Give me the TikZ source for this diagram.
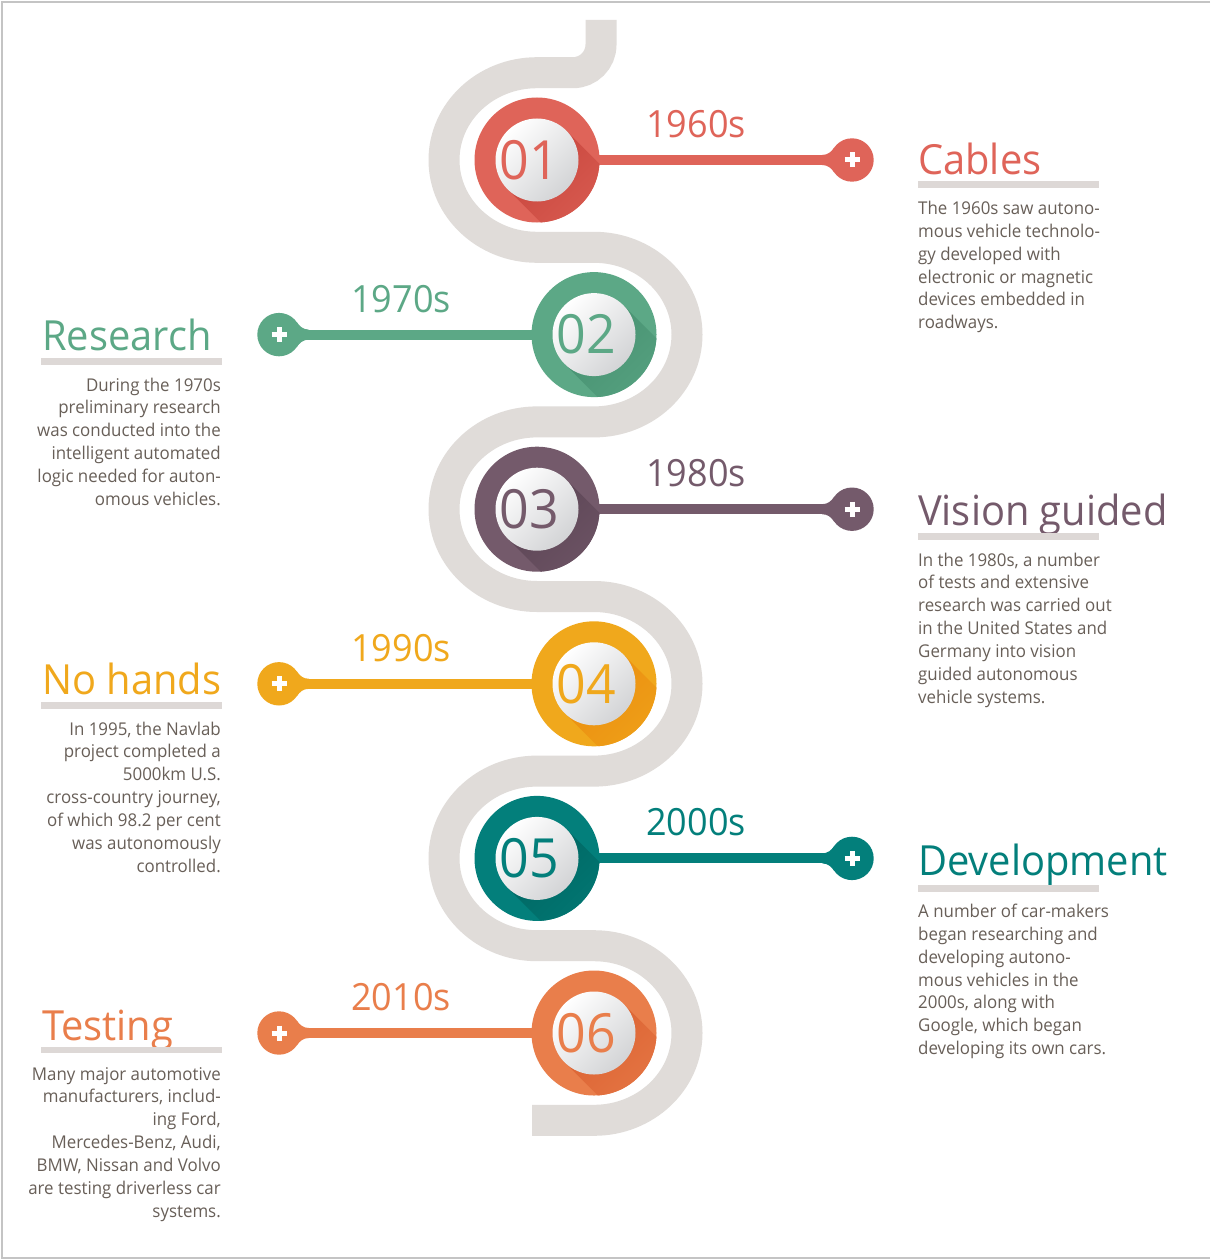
\documentclass[tikz,border=0pt]{standalone}
\usepackage{fontspec}
\setmainfont{Open Sans}[FakeStretch=0.96]
\usetikzlibrary{calc}

% palette
\definecolor{bandgray}{HTML}{E0DCD9}
\definecolor{bargray}{HTML}{DDD8D6}
\definecolor{bodygray}{HTML}{685F58}
\definecolor{framegray}{HTML}{C4C4C4}
\definecolor{discgray}{HTML}{D3D4D6}
\definecolor{cA}{HTML}{DF6459}\definecolor{cAd}{HTML}{C8463D}
\definecolor{cB}{HTML}{5CA886}\definecolor{cBd}{HTML}{479171}
\definecolor{cC}{HTML}{745A6B}\definecolor{cCd}{HTML}{5C4555}
\definecolor{cD}{HTML}{F0A81C}\definecolor{cDd}{HTML}{EB8E10}
\definecolor{cE}{HTML}{037F7B}\definecolor{cEd}{HTML}{006662}
\definecolor{cF}{HTML}{E97E4B}\definecolor{cFd}{HTML}{DB6232}

\tikzset{
  band/.style={draw=bandgray, line width=31pt},
  leader/.style={line width=10pt},
  enddot/.style={circle, minimum size=43.4pt, inner sep=0pt},
  ring/.style={circle, minimum size=125pt, inner sep=0pt},
  disc/.style={circle, minimum size=83pt, inner sep=0pt, top color=white, bottom color=discgray, shading angle=45},
  numtxt/.style={font=\fontsize{54}{54}\selectfont, inner sep=0pt},
  yeartxt/.style={font=\fontsize{37.5}{38}\selectfont, inner sep=0pt, anchor=base},
  titletxt/.style={font=\fontsize{41.5}{41.5}\selectfont, inner sep=0pt, anchor=base west},
  body/.style={font=\fontsize{17.6}{22.9}\selectfont, text=bodygray, inner sep=0pt},
  bar/.style={draw=bargray, line width=6.5pt},
  plussign/.style={draw=white, line width=5pt},
  frameline/.style={draw=framegray, line width=1.2pt},
}

% one milestone: id, centre x, centre y, end-dot x, colour, number, year, year x
\newcommand\stage[8]{%
  \coordinate (p#1) at (#2,#3);
  \draw[leader, draw=#5] (p#1) -- (#4,#3) coordinate (q#1);
  \node[enddot, fill=#5] (e#1) at (q#1) {};
  \pgfmathsetmacro\sdir{(#4>#2)?1:-1}
  \begin{scope}[shift={(e#1.center)}, xscale=\sdir]
    \fill[#5] (-30,-5) .. controls (-24,-5) and (-20.7,-8.3) .. (-17.8,-12.4) -- (0,0) -- cycle;
    \fill[#5] (-30,5) .. controls (-24,5) and (-20.7,8.3) .. (-17.8,12.4) -- (0,0) -- cycle;
  \end{scope}
  \draw[plussign] ($(e#1)+(-7.5,0)$) -- ($(e#1)+(7.5,0)$)
                  ($(e#1)+(0,-7.5)$) -- ($(e#1)+(0,7.5)$);
  \node[ring, fill=#5] (c#1) at (p#1) {};
  \begin{scope}
    \clip (p#1) circle[radius=62.5];
    \shade[top color=#5d, bottom color=#5, shading angle=45]
      ($(p#1)+(29.35,-29.35)$) -- ++(75,75) -- ++(-58.7,58.7) -- ++(-75,-75) -- cycle;
  \end{scope}
  \node[disc] (n#1) at (p#1) {};
  \node[numtxt, text=#5] (d#1) at ($(p#1)+(-8,0)$) {#6};
  \node[yeartxt, text=#5] (y#1) at (#8,#3-22.5) {#7};
}

% paragraph set line by line: name, x, first baseline, anchor, lines
\newcommand\para[5]{%
  \foreach \ln [count=\k] in {#5} {
    \node[body, anchor=#4] (#1-\k) at (#2,{#3+22.9*(\k-1)}) {\ln};
  }
}

\begin{document}
\begin{tikzpicture}[x=1pt, y=-1pt]
\useasboundingbox (0,0) rectangle (1210,1260);
\fill[white] (0,0) rectangle (1210,1260);
\draw[frameline] (1210,2) -- (2,2) -- (2,1258) -- (1210,1258);

% winding road
\draw[band] (601,20) -- (601,44.7) arc[start angle=0, end angle=90, radius=28] -- (537,72.7)
  arc[start angle=270, end angle=90, x radius=93, y radius=87.3] -- (594,247.3)
  arc[start angle=-90, end angle=90, x radius=93, y radius=87.3] -- (537,421.9)
  arc[start angle=270, end angle=90, x radius=93, y radius=87.3] -- (594,596.5)
  arc[start angle=-90, end angle=90, x radius=93, y radius=87.3] -- (537,771.1)
  arc[start angle=270, end angle=90, x radius=93, y radius=87.3] -- (594,945.7)
  arc[start angle=-90, end angle=90, x radius=93, y radius=87.3] -- (532,1120.3);

\stage{1}{537}{160}{852}{cA}{01}{1960s}{696}
\stage{2}{594}{334.6}{279}{cB}{02}{1970s}{401}
\stage{3}{537}{509.2}{852}{cC}{03}{1980s}{696}
\stage{4}{594}{683.8}{279}{cD}{04}{1990s}{401}
\stage{5}{537}{858.4}{852}{cE}{05}{2000s}{696}
\stage{6}{594}{1033}{279}{cF}{06}{2010s}{401}

% 1960s
\node[titletxt, text=cA] (t1) at (918,175) {Cables};
\draw[bar] (918,184.4) -- (1099,184.4);
\para{b1}{918}{214.3}{base west}{The 1960s saw autono-, mous vehicle technolo-, gy developed with, electronic or magnetic, devices embedded in, roadways.}

% 1970s
\node[titletxt, text=cB] (t2) at (42,350) {Research};
\draw[bar] (41,361.7) -- (221.5,361.7);
\para{b2}{221}{391}{base east}{During the 1970s, preliminary research, was conducted into the, intelligent automated, logic needed for auton-, omous vehicles.}

% 1980s
\node[titletxt, text=cC] (t3) at (918,525) {Vision guided};
\draw[bar] (918,536.7) -- (1099,536.7);
\para{b3}{918}{566}{base west}{{In the 1980s, a number}, of tests and extensive, research was carried out, in the United States and, Germany into vision, guided autonomous, vehicle systems.}

% 1990s
\node[titletxt, text=cD] (t4) at (42,694.3) {No hands};
\draw[bar] (41,705.7) -- (221.5,705.7);
\para{b4}{221}{735}{base east}{{In 1995, the Navlab}, project completed a, 5000km U.S., {cross-country journey,}, of which 98.2 per cent, was autonomously, controlled.}

% 2000s
\node[titletxt, text=cE] (t5) at (918,875) {Development};
\draw[bar] (918,888.3) -- (1099,888.3);
\para{b5}{918}{917.3}{base west}{A number of car-makers, began researching and, developing autono-, mous vehicles in the, {2000s, along with}, {Google, which began}, developing its own cars.}

% 2010s
\node[titletxt, text=cF] (t6) at (42,1040.7) {Testing};
\draw[bar] (41,1050) -- (221.5,1050);
\para{b6}{221}{1080}{base east}{Many major automotive, {manufacturers, includ-}, {ing Ford,}, {Mercedes-Benz, Audi,}, {BMW, Nissan and Volvo}, are testing driverless car, systems.}
\end{tikzpicture}
\end{document}
